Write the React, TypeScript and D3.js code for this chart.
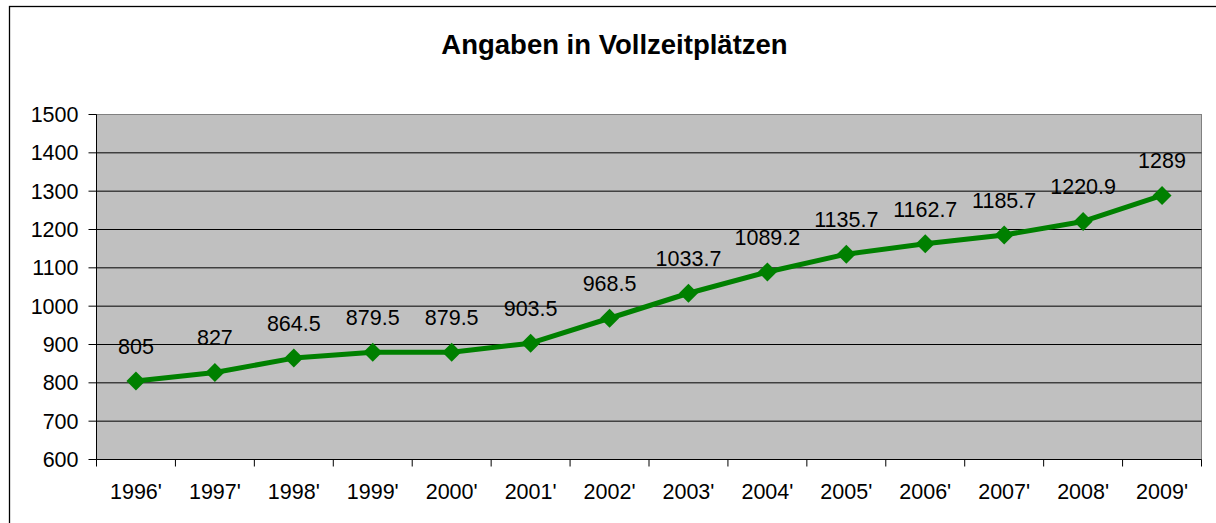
import React from "react";
import * as d3 from "d3";

const years = ["1996'", "1997'", "1998'", "1999'", "2000'", "2001'", "2002'", "2003'", "2004'", "2005'", "2006'", "2007'", "2008'", "2009'"];
const places = [805, 827, 864.5, 879.5, 879.5, 903.5, 968.5, 1033.7, 1089.2, 1135.7, 1162.7, 1185.7, 1220.9, 1289];
const yTicks = [600, 700, 800, 900, 1000, 1100, 1200, 1300, 1400, 1500];
const title = "Angaben in Vollzeitplätzen";

const W = 1216;
const H = 523;
const plot = { left: 96.5, right: 1201.5, top: 114.5, bottom: 459.5 };
const font = "'Liberation Sans', Arial, sans-serif";

const App = () => {
  const x = d3.scaleBand().domain(years).range([plot.left, plot.right]);
  const y = d3.scaleLinear().domain([600, 1500]).range([plot.bottom, plot.top]);
  const cx = (d: string) => (x(d) as number) + x.bandwidth() / 2;

  const line = d3
    .line<number>()
    .x((_, i) => cx(years[i]))
    .y((v) => y(v));

  const diamond = d3.symbol().type(d3.symbolDiamond2).size(230)();

  // category boundaries for tick marks
  const bounds = years.map((d) => x(d) as number).concat([plot.right]);

  return (
    <div style={{ position: "fixed", left: 0, top: 0 }}>
      <svg width={W} height={H} style={{ display: "block", fontFamily: font }}>
        <rect x={0} y={0} width={W} height={H} fill="#fff" />
        <rect x={9.5} y={6.5} width={W + 20} height={H + 20} fill="none" stroke="#000" strokeWidth={1.3} />

        <text x={614.5} y={53.5} textAnchor="middle" fontSize={27.5} fontWeight="bold" fill="#000">
          {title}
        </text>

        <rect
          x={plot.left}
          y={plot.top}
          width={plot.right - plot.left}
          height={plot.bottom - plot.top}
          fill="#c0c0c0"
          stroke="#808080"
          strokeWidth={1}
        />

        {yTicks.slice(1, -1).map((t) => (
          <line key={t} x1={plot.left} x2={plot.right} y1={y(t)} y2={y(t)} stroke="#000" strokeWidth={1} />
        ))}

        {/* axes */}
        <line x1={plot.left} x2={plot.left} y1={plot.top} y2={plot.bottom} stroke="#000" />
        <line x1={plot.left} x2={plot.right} y1={plot.bottom} y2={plot.bottom} stroke="#000" />

        {yTicks.map((t) => (
          <g key={t}>
            <line x1={plot.left - 8} x2={plot.left} y1={y(t)} y2={y(t)} stroke="#000" />
            <text x={78.5} y={y(t) + 7.5} textAnchor="end" fontSize={21.5} fill="#000">
              {t}
            </text>
          </g>
        ))}

        {bounds.map((b, i) => (
          <line key={i} x1={b} x2={b} y1={plot.bottom} y2={plot.bottom + 7} stroke="#000" />
        ))}

        {years.map((d) => (
          <text key={d} x={cx(d)} y={499} textAnchor="middle" fontSize={21.5} fill="#000">
            {d}
          </text>
        ))}

        <path d={line(places) || ""} fill="none" stroke="#008000" strokeWidth={5} strokeLinejoin="round" />

        {places.map((v, i) => (
          <path key={i} d={diamond || ""} transform={`translate(${cx(years[i])},${y(v)})`} fill="#008000" />
        ))}

        {places.map((v, i) => (
          <text key={i} x={cx(years[i])} y={y(v) - 27} textAnchor="middle" fontSize={21.5} fill="#000">
            {v}
          </text>
        ))}
      </svg>
    </div>
  );
};

export default App;
